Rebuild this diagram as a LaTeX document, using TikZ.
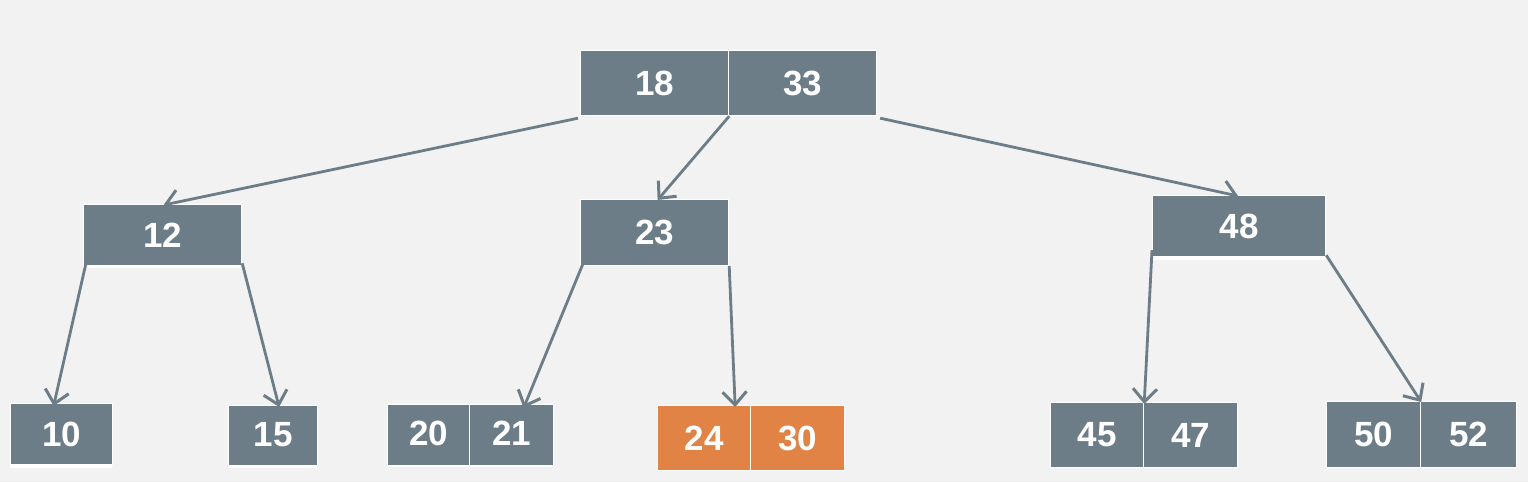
\documentclass[tikz,border=0pt]{standalone}
\usepackage{fontspec}
\setmainfont{Liberation Sans}
\usetikzlibrary{arrows.meta}
\definecolor{bg}{RGB}{242,242,242}
\definecolor{slate}{RGB}{109,125,135}
\definecolor{amber}{RGB}{224,131,68}
\tikzset{
  cell/.style={draw=white, line width=1.2pt, fill=slate, text=white,
    font=\fontsize{35}{38}\selectfont\bfseries, inner sep=0pt, anchor=north west},
  hot/.style={cell, fill=amber},
  arr/.style={draw=slate, line width=2.8pt,
    -{Straight Barb[length=13pt,width=24pt,line width=3pt]}},
  lip/.style={fill=white}
}
\begin{document}
\begin{tikzpicture}[x=1pt,y=-1pt]
\fill[bg] (0,0) rectangle (1528,482);
\useasboundingbox (0,0) rectangle (1528,482);
% white lips under some boxes
\fill[lip] (83,262) rectangle (241,268);
\fill[lip] (1152,253) rectangle (1325,260);
\fill[lip] (10,461) rectangle (112,468);
\fill[lip] (228,462) rectangle (317,468);
\fill[lip] (387,462) rectangle (553,467);
% root
\node[cell, minimum width=148pt, minimum height=65pt] (r18) at (580,50) {18};
\node[cell, minimum width=148pt, minimum height=65pt] (r33) at (728,50) {33};
% level 2
\node[cell, minimum width=158pt, minimum height=61pt] (n12) at (83,204) {12};
\node[cell, minimum width=148pt, minimum height=66pt] (n23) at (580,199) {23};
\node[cell, minimum width=173pt, minimum height=61pt] (n48) at (1152,195) {48};
% leaves
\node[cell, minimum width=102pt, minimum height=61pt] (n10) at (10,403) {10};
\node[cell, minimum width=89pt, minimum height=60pt] (n15) at (228,405) {\raisebox{3pt}{15}};
\node[cell, minimum width=82pt, minimum height=61pt] (n20) at (387,404) {\raisebox{3pt}{20}};
\node[cell, minimum width=84pt, minimum height=61pt] (n21) at (469,404) {\raisebox{3pt}{21}};
\node[hot, minimum width=93pt, minimum height=65pt] (n24) at (657,405) {24};
\node[hot, minimum width=94pt, minimum height=65pt] (n30) at (750,405) {30};
\node[cell, minimum width=93pt, minimum height=65pt] (n45) at (1050,402) {45};
\node[cell, minimum width=94pt, minimum height=65pt] (n47) at (1143,402) {47};
\node[cell, minimum width=94pt, minimum height=66pt] (n50) at (1326,401) {50};
\node[cell, minimum width=96pt, minimum height=66pt] (n52) at (1420,401) {52};
% connectors
\draw[arr] ([xshift=-2pt,yshift=-2pt]r18.south west) -- ([xshift=1pt,yshift=-1pt]n12.north);
\draw[arr] (r18.south east) -- ([xshift=3pt,yshift=-1pt]n23.north);
\draw[arr] ([xshift=3pt,yshift=-2pt]r33.south east) -- ([xshift=-1pt,yshift=-1pt]n48.north);
\draw[arr] ([xshift=3pt,yshift=3pt]n12.south west) -- ([xshift=-8pt,yshift=-3pt]n10.north);
\draw[arr] ([yshift=3pt]n12.south east) -- ([xshift=6pt,yshift=-2pt]n15.north);
\draw[arr] ([xshift=4pt,yshift=5pt]n23.south west) -- ([xshift=12pt,yshift=-4pt]n21.north);
\draw[arr] (n23.south east) -- ([xshift=-16pt,yshift=-2pt]n24.north east);
\draw[arr] ([yshift=7pt]n48.south west) -- ([yshift=-2pt]n45.north east);
\draw[arr] ([yshift=2pt]n48.south east) -- ([yshift=-1pt]n50.north east);
\end{tikzpicture}
\end{document}
